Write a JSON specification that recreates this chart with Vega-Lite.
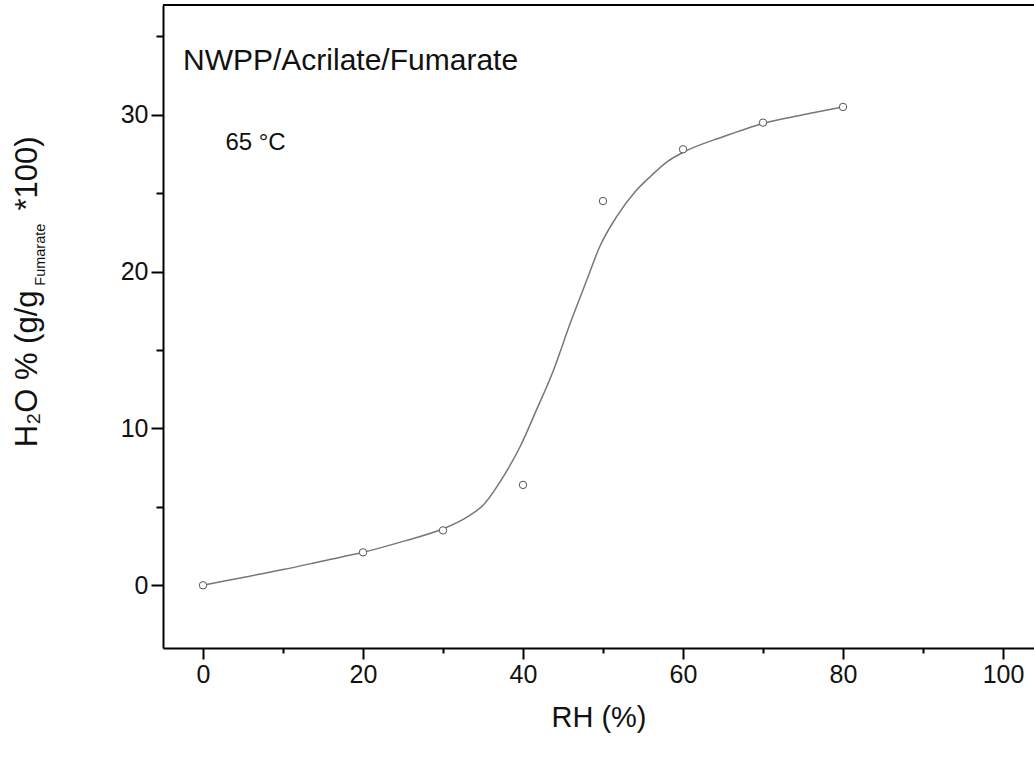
{
  "$schema": "https://vega.github.io/schema/vega-lite/v6.json",
  "width": 871,
  "height": 643,
  "autosize": {"type": "none"},
  "padding": {"left": 163, "top": 5, "right": 0, "bottom": 112},
  "background": "white",
  "config": {
    "view": {"stroke": null},
    "font": "Liberation Sans",
    "axis": {
      "grid": false,
      "domainColor": "black",
      "domainWidth": 2,
      "tickColor": "black",
      "tickWidth": 2,
      "labelFont": "Liberation Sans",
      "labelFontSize": 25,
      "labelColor": "#111",
      "titleFont": "Liberation Sans",
      "titleFontWeight": "normal",
      "titleColor": "#111"
    }
  },
  "datasets": {
    "measured": [
      {"rh": 0, "water": 0},
      {"rh": 20, "water": 2.1},
      {"rh": 30, "water": 3.5},
      {"rh": 40, "water": 6.4},
      {"rh": 50, "water": 24.5},
      {"rh": 60, "water": 27.8},
      {"rh": 70, "water": 29.5},
      {"rh": 80, "water": 30.5}
    ],
    "fit": [
      {"rh": 0, "water": 0},
      {"rh": 5, "water": 0.5},
      {"rh": 10, "water": 1.0},
      {"rh": 15, "water": 1.55},
      {"rh": 20, "water": 2.1},
      {"rh": 25, "water": 2.8},
      {"rh": 30, "water": 3.6},
      {"rh": 33, "water": 4.35},
      {"rh": 35, "water": 5.1},
      {"rh": 37.5, "water": 6.9},
      {"rh": 39.6, "water": 8.8},
      {"rh": 41.7, "water": 11.2},
      {"rh": 43.8, "water": 13.7},
      {"rh": 45.9, "water": 16.7},
      {"rh": 48, "water": 19.5},
      {"rh": 49.6, "water": 21.6},
      {"rh": 51.7, "water": 23.5},
      {"rh": 54.2, "water": 25.2},
      {"rh": 56, "water": 26.1},
      {"rh": 58, "water": 27.0},
      {"rh": 60, "water": 27.6},
      {"rh": 65, "water": 28.6},
      {"rh": 70, "water": 29.45},
      {"rh": 75, "water": 30.0},
      {"rh": 80, "water": 30.5}
    ],
    "one": [{"id": 1}]
  },
  "layer": [
    {
      "data": {"name": "fit"},
      "mark": {"type": "line", "color": "#777", "strokeWidth": 1.5, "interpolate": "monotone"},
      "encoding": {
        "x": {
          "field": "rh", "type": "quantitative",
          "scale": {"domain": [-5, 103.875], "nice": false, "zero": false},
          "axis": {
            "values": [0, 10, 20, 30, 40, 50, 60, 70, 80, 90, 100],
            "labelExpr": "datum.value % 20 === 0 ? datum.label : ''",
            "tickSize": {"condition": {"test": "datum.value % 20 === 0", "value": 11}, "value": 5},
            "labelPadding": 3,
            "title": "RH (%)",
            "titleFontSize": 29,
            "titlePadding": 16
          }
        },
        "y": {
          "field": "water", "type": "quantitative",
          "scale": {"domain": [-4, 37], "nice": false, "zero": false},
          "axis": {
            "values": [0, 5, 10, 15, 20, 25, 30, 35],
            "labelExpr": "datum.value % 10 === 0 ? datum.label : ''",
            "tickSize": {"condition": {"test": "datum.value % 10 === 0", "value": 12}, "value": 7},
            "labelPadding": 3,
            "title": null
          }
        }
      }
    },
    {
      "data": {"name": "measured"},
      "mark": {"type": "point", "shape": "circle", "filled": true, "fill": "white", "stroke": "#555", "strokeWidth": 1, "size": 55, "opacity": 1},
      "encoding": {
        "x": {"field": "rh", "type": "quantitative"},
        "y": {"field": "water", "type": "quantitative"}
      }
    },
    {
      "data": {"name": "one"},
      "mark": {"type": "rule", "color": "black", "strokeWidth": 2},
      "encoding": {"y": {"datum": 37}}
    },
    {
      "data": {"name": "one"},
      "mark": {"type": "text", "fontSize": 30, "align": "left", "baseline": "middle", "color": "#111"},
      "encoding": {"x": {"datum": -2.5}, "y": {"datum": 33.4}, "text": {"value": "NWPP/Acrilate/Fumarate"}}
    },
    {
      "data": {"name": "one"},
      "mark": {"type": "text", "fontSize": 24, "align": "left", "baseline": "middle", "color": "#111"},
      "encoding": {"x": {"datum": 2.8}, "y": {"datum": 28.2}, "text": {"value": "65 °C"}}
    },
    {
      "data": {"name": "one"},
      "mark": {"type": "text", "fontSize": 31, "angle": 270, "align": "left", "baseline": "middle", "color": "#111"},
      "encoding": {"x": {"datum": -21.9}, "y": {"datum": 8.8}, "text": {"value": "H₂O % (g/g"}}
    },
    {
      "data": {"name": "one"},
      "mark": {"type": "text", "fontSize": 14.5, "angle": 270, "align": "left", "baseline": "middle", "color": "#111"},
      "encoding": {"x": {"datum": -20.3}, "y": {"datum": 19.1}, "text": {"value": "Fumarate"}}
    },
    {
      "data": {"name": "one"},
      "mark": {"type": "text", "fontSize": 31, "angle": 270, "align": "left", "baseline": "middle", "color": "#111"},
      "encoding": {"x": {"datum": -21.9}, "y": {"datum": 23.9}, "text": {"value": "*100)"}}
    }
  ]
}
